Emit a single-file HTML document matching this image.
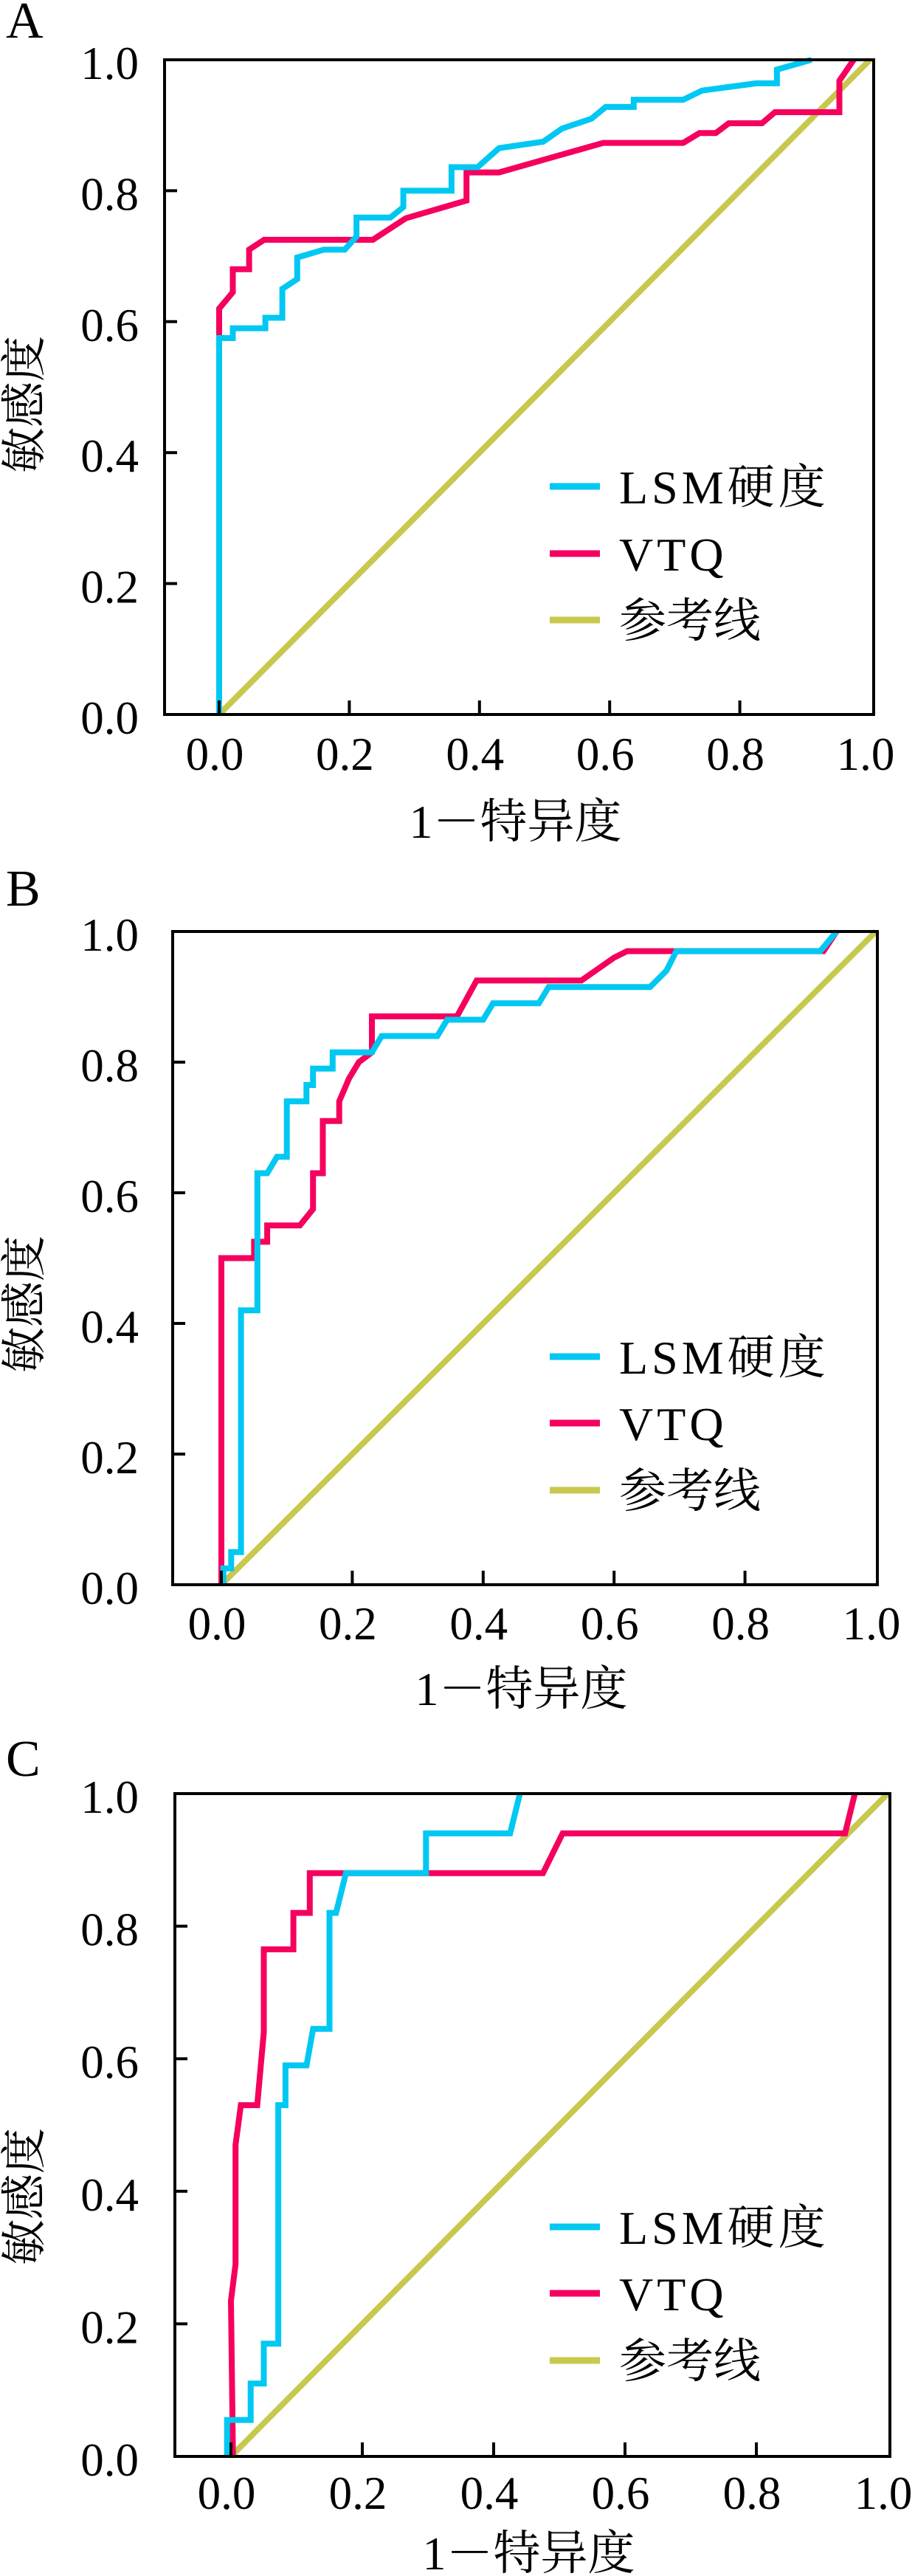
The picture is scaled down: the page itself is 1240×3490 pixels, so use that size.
<!DOCTYPE html>
<html>
<head>
<meta charset="utf-8">
<style>
html,body{margin:0;padding:0;background:#fff;}
svg{display:block;}
text{font-family:"Liberation Serif","Noto Serif CJK SC","Noto Sans CJK SC",serif;fill:#000;}
</style>
</head>
<body>
<svg id="fig" width="1240" height="3490" viewBox="0 0 1240 3490" xmlns="http://www.w3.org/2000/svg"></svg>
<script>
// ---- data (1 - specificity, sensitivity) ----
const ticks = [0, 0.2, 0.4, 0.6, 0.8, 1.0];
const tickLabels = ["0.0", "0.2", "0.4", "0.6", "0.8", "1.0"];
const legendLabels = ["LSM硬度", "VTQ", "参考线"];
const refX = [0, 1];
const refY = [0, 1];

const lsmA_x = [0,0,0.021,0.021,0.071,0.071,0.097,0.097,0.12,0.12,0.161,0.193,0.211,0.211,0.263,0.283,0.283,0.357,0.357,0.397,0.43,0.498,0.527,0.572,0.594,0.637,0.637,0.713,0.742,0.825,0.857,0.857,0.91];
const lsmA_y = [0,0.575,0.575,0.59,0.59,0.606,0.606,0.65,0.665,0.698,0.71,0.71,0.73,0.759,0.759,0.775,0.80,0.80,0.836,0.836,0.865,0.875,0.895,0.91,0.928,0.928,0.939,0.939,0.953,0.964,0.964,0.985,1.0];
const vtqA_x = [0,0,0.021,0.021,0.046,0.046,0.069,0.236,0.287,0.38,0.38,0.43,0.59,0.713,0.738,0.763,0.783,0.834,0.854,0.953,0.953,0.975];
const vtqA_y = [0,0.62,0.645,0.68,0.68,0.71,0.725,0.725,0.758,0.785,0.828,0.828,0.873,0.873,0.888,0.888,0.903,0.903,0.92,0.92,0.968,1.0];

const lsmB_x = [0.003,0.003,0.015,0.015,0.03,0.03,0.055,0.055,0.07,0.085,0.1,0.1,0.13,0.13,0.14,0.14,0.17,0.17,0.23,0.245,0.33,0.345,0.4,0.415,0.485,0.5,0.655,0.68,0.695,0.915,0.94];
const lsmB_y = [0,0.025,0.025,0.05,0.05,0.42,0.42,0.63,0.63,0.655,0.655,0.74,0.74,0.765,0.765,0.79,0.79,0.815,0.815,0.84,0.84,0.865,0.865,0.89,0.89,0.915,0.915,0.94,0.97,0.97,1.0];
const vtqB_x = [0,0,0.05,0.05,0.07,0.07,0.12,0.14,0.14,0.155,0.155,0.18,0.18,0.195,0.21,0.23,0.23,0.36,0.39,0.55,0.6,0.62,0.92,0.94];
const vtqB_y = [0,0.5,0.5,0.525,0.525,0.55,0.55,0.575,0.63,0.63,0.71,0.71,0.74,0.775,0.8,0.815,0.87,0.87,0.925,0.925,0.96,0.97,0.97,1.0];

const lsmC_x = [-0.006,-0.006,0.03,0.03,0.05,0.05,0.072,0.072,0.083,0.083,0.115,0.125,0.15,0.15,0.16,0.175,0.297,0.297,0.425,0.44];
const lsmC_y = [0,0.055,0.055,0.11,0.11,0.17,0.17,0.53,0.53,0.59,0.59,0.645,0.645,0.82,0.82,0.88,0.88,0.94,0.94,1.0];
const vtqC_x = [0.003,0.0,0.007,0.007,0.015,0.04,0.05,0.05,0.095,0.095,0.12,0.12,0.475,0.505,0.935,0.95];
const vtqC_y = [0,0.235,0.29,0.47,0.53,0.53,0.64,0.765,0.765,0.82,0.82,0.88,0.88,0.94,0.94,1.0];

const C_LSM = "#00c8f2", C_VTQ = "#f5005e", C_REF = "#c8c84e";
const NS = "http://www.w3.org/2000/svg";
const svg = document.getElementById("fig");

function mk(tag, attrs, parent) {
  const e = document.createElementNS(NS, tag);
  for (const k in attrs) e.setAttribute(k, attrs[k]);
  (parent || svg).appendChild(e);
  return e;
}

const panels = [
  {id:"a", letter:"A", letterY:51, L:223, T:81, R:1184, B:968, x0:297, x1:1179, y0:968, y1:81,
   xLabY:1022, titleY:1111, yTitleY:548, legY:[659,750,840], lsm:[lsmA_x,lsmA_y], vtq:[vtqA_x,vtqA_y]},
  {id:"b", letter:"B", letterY:1227, L:234, T:1262, R:1189, B:2147, x0:300, x1:1187, y0:2147, y1:1262,
   xLabY:2200, titleY:2286, yTitleY:1767, legY:[1838,1928,2019], lsm:[lsmB_x,lsmB_y], vtq:[vtqB_x,vtqB_y]},
  {id:"c", letter:"C", letterY:2406, L:237, T:2430, R:1206, B:3328, x0:313, x1:1203, y0:3328, y1:2430,
   xLabY:3378, titleY:3457, yTitleY:2976, legY:[3017,3107,3198], lsm:[lsmC_x,lsmC_y], vtq:[vtqC_x,vtqC_y]}
];

function drawPanel(p) {
  const g = mk("g", {});
  
  
  const sx = v => p.x0 + v * (p.x1 - p.x0);
  const sy = v => p.y0 + v * (p.y1 - p.y0);

  const letter = mk("text", {x: 8, y: p.letterY, "font-size": 70}, g);
  letter.textContent = p.letter;
  
  

  function series(xs, ys, color, name) {
    let d = "";
    for (let i = 0; i < xs.length; i++) d += (i ? "L" : "M") + sx(xs[i]).toFixed(1) + " " + sy(ys[i]).toFixed(1);
    const path = mk("path", {d: d, fill: "none", stroke: color, "stroke-width": 8, "stroke-linejoin": "miter"}, g);
    
    
  }
  series(refX, refY, C_REF, 'reference-line');
  series(p.vtq[0], p.vtq[1], C_VTQ, 'vtq-curve');
  series(p.lsm[0], p.lsm[1], C_LSM, 'lsm-curve');

  const frame = mk("rect", {x: p.L, y: p.T, width: p.R - p.L, height: p.B - p.T, fill: "none", stroke: "#000", "stroke-width": 4}, g);
  
  

  for (let i = 0; i < ticks.length; i++) {
    const t = ticks[i];
    if (i > 0 && i < ticks.length - 1) {
      const yt = mk("line", {x1: p.L, x2: p.L + 17, y1: sy(t), y2: sy(t), stroke: "#000", "stroke-width": 4}, g);
      
      
    }
    if (i < ticks.length - 1) {
      const xt = mk("line", {x1: sx(t), x2: sx(t), y1: p.B, y2: p.B - 19, stroke: "#000", "stroke-width": 4}, g);
      
      
    }
    const yl = mk("text", {x: 188, y: sy(t) + 26, "font-size": 63, "text-anchor": "end"}, g);
    yl.textContent = tickLabels[i];
    
    
    const xl = mk("text", {x: sx(t) - 6, y: p.xLabY + 21, "font-size": 63, "text-anchor": "middle"}, g);
    xl.textContent = tickLabels[i];
    
    
  }

  const xt = mk("text", {x: (p.L + p.R) / 2 - 5, y: p.titleY + 24, "font-size": 64, "text-anchor": "middle"}, g);
  xt.textContent = "1－特异度";
  
  

  const yt = mk("text", {x: 0, y: 0, "font-size": 62, "text-anchor": "middle", transform: "translate(54," + p.yTitleY + ") rotate(-90)"}, g);
  yt.textContent = "敏感度";
  
  

  const cols = [C_LSM, C_VTQ, C_REF];
  for (let i = 0; i < 3; i++) {
    const ll = mk("line", {x1: 745, x2: 813, y1: p.legY[i], y2: p.legY[i], stroke: cols[i], "stroke-width": 9}, g);
    
    
    const lt = mk("text", {x: 839, y: p.legY[i] + 23, "font-size": 64, "letter-spacing": i < 2 ? 5 : 0}, g);
    lt.textContent = legendLabels[i];
    
    
  }
}
panels.forEach(drawPanel);
</script>
</body>
</html>
